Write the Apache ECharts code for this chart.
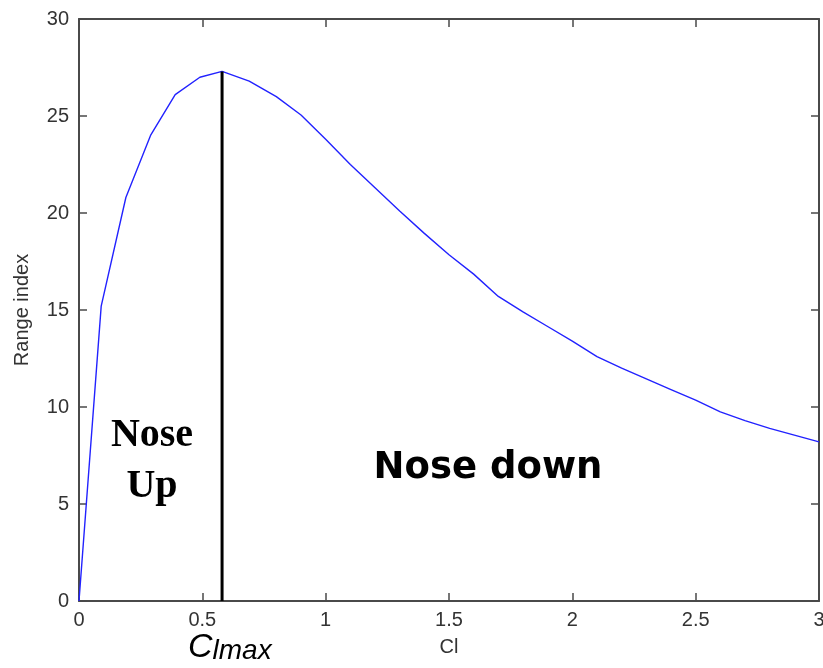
<!DOCTYPE html>
<html>
<head>
<meta charset="utf-8">
<title>Range index vs Cl</title>
<script src="https://cdn.jsdelivr.net/npm/echarts@6/dist/echarts.min.js"></script>
<style>
  html, body { margin: 0; padding: 0; background: #fff; overflow: hidden; }
  #chart { width: 823px; height: 668px; }
</style>
</head>
<body>
<div id="chart"></div>
<script>
'use strict';

// lift coefficient samples
const clValues = [0, 0.09, 0.19, 0.29, 0.39, 0.49, 0.58, 0.69, 0.8, 0.9, 1.0, 1.1, 1.2, 1.3, 1.4,
  1.5, 1.6, 1.7, 1.8, 1.9, 2.0, 2.1, 2.2, 2.3, 2.4, 2.5, 2.6, 2.7, 2.8, 2.9, 3.0];
const rangeIndex = [0, 15.2, 20.8, 24.0, 26.1, 27.0, 27.3, 26.8, 26.0, 25.05, 23.8, 22.5, 21.3, 20.1, 18.95,
  17.85, 16.85, 15.7, 14.9, 14.15, 13.4, 12.6, 12.0, 11.45, 10.9, 10.35, 9.75, 9.3, 8.9, 8.55, 8.2];

// vertical marker at Cl max
const clMax = 0.58;
const clMaxPeak = 27.3;

const xTicks = [0, 0.5, 1, 1.5, 2, 2.5, 3];
const yTicks = [0, 5, 10, 15, 20, 25, 30];

const labelFont = '"Liberation Sans", Arial, sans-serif';
const frameColor = '#4a4a4a';

function makeAxis(extra) {
  return Object.assign({
    type: 'value',
    axisLine: { show: true, onZero: false, lineStyle: { color: frameColor, width: 2 } },
    axisTick: { show: true, inside: true, length: 8, lineStyle: { color: frameColor, width: 1.5 } },
    splitLine: { show: false },
  }, extra);
}

const chart = echarts.init(document.getElementById('chart'));

const curve = clValues.map((x, i) => [x, rangeIndex[i]]);

const option = {
  animation: false,
  backgroundColor: '#fff',
  grid: { left: 79, right: 4, top: 19, bottom: 67, containLabel: false, outerBoundsMode: 'none' },
  xAxis: [
    makeAxis({
      position: 'bottom',
      min: xTicks[0], max: xTicks[xTicks.length - 1], interval: 0.5,
      name: 'Cl', nameLocation: 'middle', nameGap: 36,
      nameTextStyle: { fontFamily: labelFont, fontSize: 20, color: '#333' },
      axisLabel: { fontFamily: labelFont, fontSize: 20, color: '#333', margin: 9 },
    }),
    makeAxis({
      position: 'top',
      min: xTicks[0], max: xTicks[xTicks.length - 1], interval: 0.5,
      axisLabel: { show: false },
    }),
  ],
  yAxis: [
    makeAxis({
      position: 'left',
      min: yTicks[0], max: yTicks[yTicks.length - 1], interval: 5,
      name: 'Range index', nameLocation: 'middle', nameGap: 47,
      nameTextStyle: { fontFamily: labelFont, fontSize: 20, color: '#333' },
      axisLabel: { fontFamily: labelFont, fontSize: 20, color: '#333', margin: 10 },
    }),
    makeAxis({
      position: 'right',
      min: yTicks[0], max: yTicks[yTicks.length - 1], interval: 5,
      axisLabel: { show: false },
    }),
  ],
  series: [
    {
      type: 'line',
      data: curve,
      showSymbol: false,
      smooth: false,
      lineStyle: { color: '#2222ff', width: 1.4 },
      z: 3,
    },
    {
      type: 'line',
      data: [[clMax, 0], [clMax, clMaxPeak]],
      showSymbol: false,
      lineStyle: { color: '#000', width: 3 },
      z: 4,
    },
  ],
  graphic: [
    {
      type: 'text', x: 152, y: 461,
      style: {
        text: 'Nose\nUp',
        font: 'bold 40px "Liberation Serif", "Times New Roman", serif',
        fill: '#000', align: 'center', verticalAlign: 'middle', lineHeight: 51,
      },
    },
    {
      type: 'text', x: 488, y: 468,
      style: {
        text: 'Nose down',
        font: 'bold 37px "DejaVu Sans", Verdana, sans-serif',
        fill: '#000', align: 'center', verticalAlign: 'middle',
      },
    },
    {
      type: 'text', x: 188, y: 665,
      style: {
        text: '{c|C}{s|lmax}',
        align: 'left', verticalAlign: 'bottom',
        rich: {
          c: { fontFamily: labelFont, fontStyle: 'italic', fontSize: 34, lineHeight: 34, verticalAlign: 'bottom', fill: '#000' },
          s: { fontFamily: labelFont, fontStyle: 'italic', fontSize: 28, lineHeight: 28, verticalAlign: 'bottom', fill: '#000' },
        },
      },
    },
  ],
};

chart.setOption(option);
</script>
</body>
</html>
